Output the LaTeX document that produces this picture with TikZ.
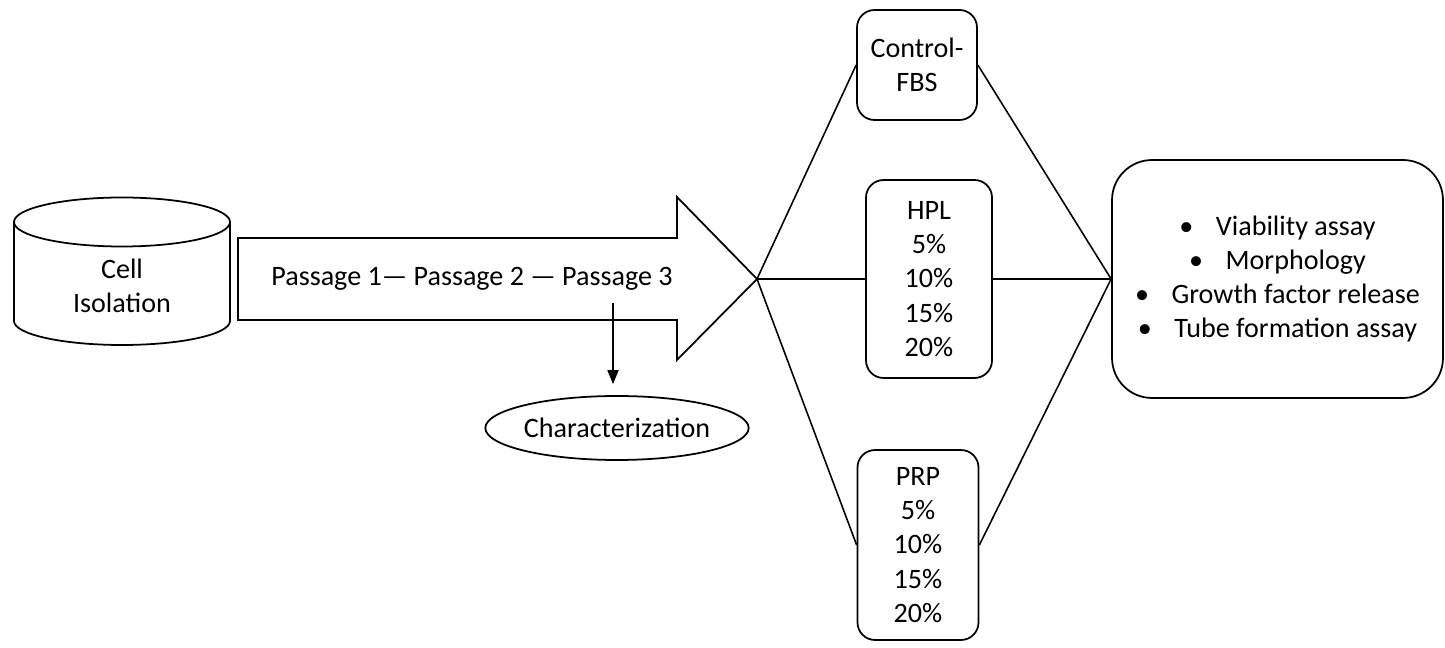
\documentclass[tikz,border=0pt]{standalone}
\usepackage{fontspec}
\setmainfont{Carlito}
\usetikzlibrary{shapes.geometric,arrows.meta}

\begin{document}
\begin{tikzpicture}[x=0.02cm,y=-0.02cm,line width=1pt,
  txt/.style={font=\fontsize{16}{19.5}\selectfont,align=center},
  group/.style={txt,draw,rounded corners=0.35cm,inner sep=0pt},
  link/.style={line width=0.9pt}]
  \useasboundingbox (0,0) rectangle (1445,648);

  % cell isolation (cylinder)
  \draw (14,222) -- (14,321) arc[start angle=180,end angle=0,x radius=108,y radius=24] -- (230,222);
  \draw (122,222) ellipse [x radius=108,y radius=24.5];
  \node[txt] (cell) at (122,286) {Cell\\Isolation};

  % passages
  \draw (238,238) -- (677,238) -- (677,197) -- (757,279) -- (677,360) -- (677,320) -- (238,320) -- cycle;
  \coordinate (tip) at (757,279);
  \node[txt] (passages) at (472,279) {Passage 1— Passage 2 — Passage 3};

  \node[draw,ellipse,txt,minimum width=4.9cm,minimum height=1.28cm,inner sep=0pt] (char) at (617,428) {Characterization};
  \coordinate (p3) at (613,303);
  \draw[-{Triangle[length=0.28cm,width=0.22cm]},shorten >=0.22cm] (p3) -- (p3 |- char.north);

  % media
  \node[group,minimum width=2.4cm,minimum height=2.2cm] (ctrl) at (917,65) {Control-\\FBS};
  \node[group,minimum width=2.52cm,minimum height=3.96cm] (hpl) at (929,279) {HPL\\5\%\\10\%\\15\%\\20\%};
  \node[group,minimum width=2.42cm,minimum height=3.8cm] (prp) at (918,545) {PRP\\5\%\\10\%\\15\%\\20\%};

  % assays
  \node[group,rounded corners=0.8cm,minimum width=6.62cm,minimum height=4.76cm] (assays) at (1277.5,279)
    {\textbullet\hspace{0.45cm}Viability assay\\\textbullet\hspace{0.45cm}Morphology\\
     \textbullet\hspace{0.45cm}Growth factor release\\\textbullet\hspace{0.45cm}Tube formation assay};

  \foreach \grp in {ctrl,hpl,prp}{
    \draw[link] (tip) -- (\grp.west);
    \draw[link] (\grp.east) -- (assays.west);
  }
\end{tikzpicture}
\end{document}
